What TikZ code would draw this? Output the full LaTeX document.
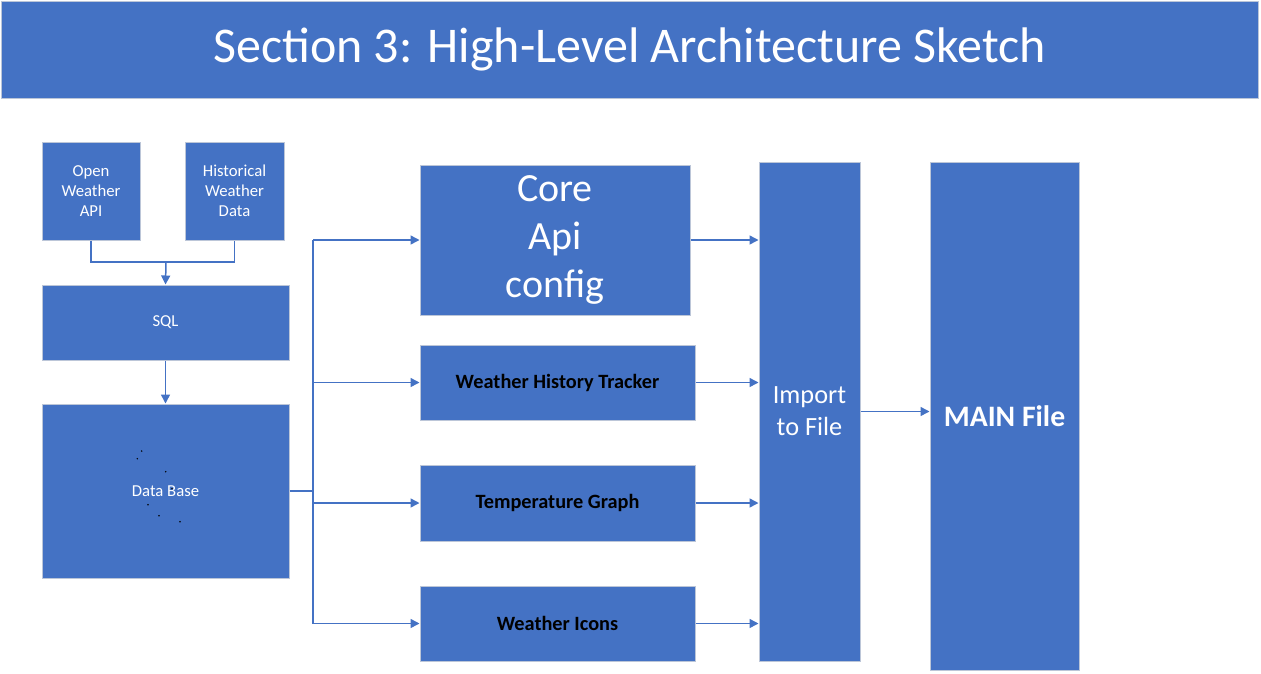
\documentclass[tikz,border=0pt]{standalone}
\usepackage{fontspec}
\setmainfont{Carlito}
\usetikzlibrary{arrows.meta,calc,positioning}
\definecolor{boxblue}{HTML}{4472C4}
\definecolor{boxedge}{HTML}{BCC6D8}
\tikzset{
    blk/.style={rectangle,fill=boxblue,draw=boxedge,line width=1pt,text=white,align=center,inner sep=0pt},
    wire/.style={draw=boxblue,line width=1.5pt},
    arr/.style={wire,-{Triangle[length=9pt,width=9pt]}}
}

\begin{document}
\begin{tikzpicture}[x=1pt,y=-1pt]
    \useasboundingbox (0,0) rectangle (1261,673);

    % title banner
    \node[blk,minimum width=1257pt,minimum height=97pt,font=\fontsize{50}{60}\selectfont] (title) at (629.5,49.5) {Section 3: High-Level Architecture Sketch};

    % data sources
    \node[blk,minimum width=98pt,minimum height=98pt,font=\fontsize{16.7}{20}\selectfont] (owa) at (91,191) {Open\\Weather\\API};
    \node[blk,minimum width=99pt,minimum height=98pt,font=\fontsize{16.7}{20}\selectfont] (hwd) at (234.5,191) {Historical\\Weather\\Data};
    \node[blk,minimum width=247pt,minimum height=75pt,font=\fontsize{16.7}{20}\selectfont] (sql) at (165.5,322.5) {SQL};
    \node[blk,minimum width=247pt,minimum height=174pt,font=\fontsize{16.7}{20}\selectfont] (db) at (165.5,491) {Data Base};

    % stray dots inside the data base box
    \foreach \px/\py in {141.7/451,137.3/458.7,165.7/471.7,172/488.7,148/504.7,159/515.7,180/521.7}
        \fill (\px,\py) circle (0.8pt);

    % modules
    \node[blk,minimum width=270pt,minimum height=150pt,font=\fontsize{40}{48}\selectfont] (core) at (555,240) {Core\\Api\\config};
    \node[blk,minimum width=275pt,minimum height=75pt,text=black,font=\bfseries\fontsize{20.3}{24}\selectfont] (wht) at (557.5,382.5) {Weather History Tracker};
    \node[blk,minimum width=275pt,minimum height=76pt,text=black,font=\bfseries\fontsize{20.3}{24}\selectfont] (tg) at (557.5,503) {Temperature Graph};
    \node[blk,minimum width=275pt,minimum height=75pt,text=black,font=\bfseries\fontsize{20.3}{24}\selectfont] (wi) at (557.5,623.5) {Weather Icons};

    % import and main
    \node[blk,minimum width=101pt,minimum height=499pt,font=\fontsize{26.3}{32}\selectfont] (imp) at (809.5,411.5) {Import\\to File};
    \node[blk,minimum width=149pt,minimum height=508pt,font=\bfseries\fontsize{29.7}{34}\selectfont] (main) at (1004.5,416) {MAIN File};

    % sources into sql
    \coordinate (join) at (166,262);
    \draw[wire] (owa.south) |- (join) -| (hwd.south);
    \draw[arr] (join) -- (sql.north);
    \draw[arr] (sql.south) -- (db.north);

    % data base out to the modules
    \coordinate (bus) at (313,491);
    \draw[wire] (db.east) -- (bus);
    \draw[wire] (bus |- core.west) -- (bus |- wi.west);
    \foreach \m in {core,wht,tg,wi}
        \draw[arr] (bus |- \m.west) -- (\m.west);

    % modules into import
    \foreach \m in {core,wht,tg,wi}
        \draw[arr] (\m.east) -- (imp.west |- \m.east);
    \draw[arr] (imp.east) -- (main.west |- imp.east);
\end{tikzpicture}
\end{document}
